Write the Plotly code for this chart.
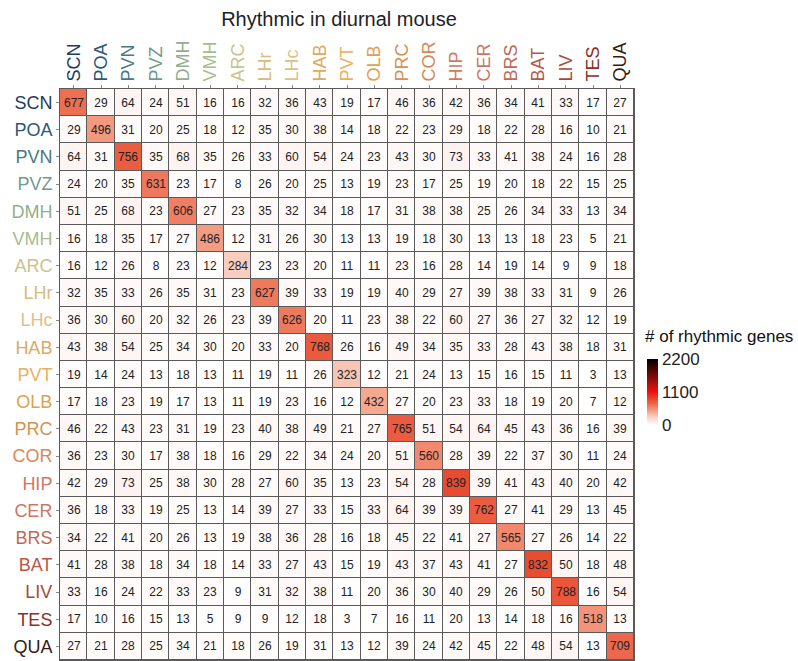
import plotly.graph_objects as go

regions = ["SCN", "POA", "PVN", "PVZ", "DMH", "VMH", "ARC", "LHr", "LHc", "HAB", "PVT",
           "OLB", "PRC", "COR", "HIP", "CER", "BRS", "BAT", "LIV", "TES", "QUA"]

label_colors = ["#1d3d5c", "#2f5878", "#4a7a80", "#6f9a90", "#8fb08c", "#a8bc90", "#c8c48c",
                "#d8bc7c", "#e0c08a", "#e0a860", "#e8b060", "#e0a050", "#d89050", "#d88858",
                "#d07860", "#c87868", "#c06858", "#b85848", "#a84838", "#8a3028", "#3a1a10"]

counts = [
    [677, 29, 64, 24, 51, 16, 16, 32, 36, 43, 19, 17, 46, 36, 42, 36, 34, 41, 33, 17, 27],
    [29, 496, 31, 20, 25, 18, 12, 35, 30, 38, 14, 18, 22, 23, 29, 18, 22, 28, 16, 10, 21],
    [64, 31, 756, 35, 68, 35, 26, 33, 60, 54, 24, 23, 43, 30, 73, 33, 41, 38, 24, 16, 28],
    [24, 20, 35, 631, 23, 17, 8, 26, 20, 25, 13, 19, 23, 17, 25, 19, 20, 18, 22, 15, 25],
    [51, 25, 68, 23, 606, 27, 23, 35, 32, 34, 18, 17, 31, 38, 38, 25, 26, 34, 33, 13, 34],
    [16, 18, 35, 17, 27, 486, 12, 31, 26, 30, 13, 13, 19, 18, 30, 13, 13, 18, 23, 5, 21],
    [16, 12, 26, 8, 23, 12, 284, 23, 23, 20, 11, 11, 23, 16, 28, 14, 19, 14, 9, 9, 18],
    [32, 35, 33, 26, 35, 31, 23, 627, 39, 33, 19, 19, 40, 29, 27, 39, 38, 33, 31, 9, 26],
    [36, 30, 60, 20, 32, 26, 23, 39, 626, 20, 11, 23, 38, 22, 60, 27, 36, 27, 32, 12, 19],
    [43, 38, 54, 25, 34, 30, 20, 33, 20, 768, 26, 16, 49, 34, 35, 33, 28, 43, 38, 18, 31],
    [19, 14, 24, 13, 18, 13, 11, 19, 11, 26, 323, 12, 21, 24, 13, 15, 16, 15, 11, 3, 13],
    [17, 18, 23, 19, 17, 13, 11, 19, 23, 16, 12, 432, 27, 20, 23, 33, 18, 19, 20, 7, 12],
    [46, 22, 43, 23, 31, 19, 23, 40, 38, 49, 21, 27, 765, 51, 54, 64, 45, 43, 36, 16, 39],
    [36, 23, 30, 17, 38, 18, 16, 29, 22, 34, 24, 20, 51, 560, 28, 39, 22, 37, 30, 11, 24],
    [42, 29, 73, 25, 38, 30, 28, 27, 60, 35, 13, 23, 54, 28, 839, 39, 41, 43, 40, 20, 42],
    [36, 18, 33, 19, 25, 13, 14, 39, 27, 33, 15, 33, 64, 39, 39, 762, 27, 41, 29, 13, 45],
    [34, 22, 41, 20, 26, 13, 19, 38, 36, 28, 16, 18, 45, 22, 41, 27, 565, 27, 26, 14, 22],
    [41, 28, 38, 18, 34, 18, 14, 33, 27, 43, 15, 19, 43, 37, 43, 41, 27, 832, 50, 18, 48],
    [33, 16, 24, 22, 33, 23, 9, 31, 32, 38, 11, 20, 36, 30, 40, 29, 26, 50, 788, 16, 54],
    [17, 10, 16, 15, 13, 5, 9, 9, 12, 18, 3, 7, 16, 11, 20, 13, 14, 18, 16, 518, 13],
    [27, 21, 28, 25, 34, 21, 18, 26, 19, 31, 13, 12, 39, 24, 42, 45, 22, 48, 54, 13, 709],
]

colorbar_ticks = [0, 1100, 2200]
colorbar_title = "# of rhythmic genes"
chart_title = "Rhythmic in diurnal mouse"

ticktext = [f"<span style='color:{c}'>{r}</span>" for r, c in zip(regions, label_colors)]

colorscale = [
    [0.0, "#ffffff"],
    [0.13, "#f9cdbf"],
    [0.2, "#f5a78f"],
    [0.29, "#ef765a"],
    [0.38, "#e84c30"],
    [0.5, "#f01010"],
    [1.0, "#000000"],
]

FONT = "Liberation Sans, Arial, sans-serif"

fig = go.Figure(go.Heatmap(
    z=counts,
    x=regions,
    y=regions,
    zmin=0,
    zmax=2200,
    colorscale=colorscale,
    xgap=1,
    ygap=1,
    texttemplate="%{z}",
    textfont=dict(size=12, color="#222222", family=FONT),
    colorbar=dict(
        tickvals=colorbar_ticks,
        ticktext=[str(v) for v in colorbar_ticks],
        tickfont=dict(size=17, color="#222222", family=FONT),
        thickness=11,
        len=66,
        lenmode="pixels",
        ypad=0,
        xpad=0,
        x=1.0226,
        xanchor="left",
        y=1 - (393 - 89) / 572,
        yanchor="middle",
        outlinewidth=0,
        ticks="",
    ),
))

fig.add_annotation(
    text=colorbar_title,
    xref="paper", yref="paper",
    x=(643 - 60) / 574, y=1 - (337 - 89) / 572,
    xanchor="left", yanchor="middle",
    showarrow=False,
    font=dict(size=17, color="#111111", family=FONT),
)

fig.update_layout(
    width=798,
    height=661,
    margin=dict(l=60, r=164, t=89, b=1),
    paper_bgcolor="white",
    plot_bgcolor="#5a5a5a",
    font=dict(family=FONT),
    title=dict(text=chart_title, x=339 / 798, xanchor="center",
               y=1 - 19 / 661, yanchor="middle",
               font=dict(size=20, color="#222222")),
)

axis_style = dict(
    tickmode="array",
    tickvals=regions,
    ticktext=ticktext,
    tickfont=dict(size=18),
    ticks="outside",
    ticklen=3,
    tickcolor="#888888",
    showline=True,
    mirror=True,
    linecolor="#5a5a5a",
    linewidth=1,
    showgrid=False,
    zeroline=False,
)

fig.update_xaxes(side="top", tickangle=-90, **axis_style)
fig.update_yaxes(autorange="reversed", **axis_style)

fig.write_html("out.html")
